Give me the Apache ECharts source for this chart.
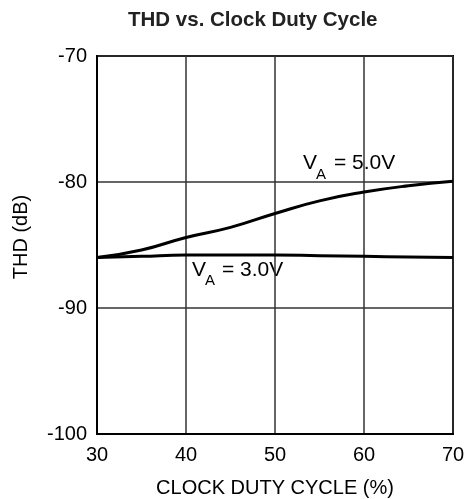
<!DOCTYPE html>
<html><head><meta charset="utf-8">
<script src="https://cdn.jsdelivr.net/npm/echarts@6/dist/echarts.min.js"></script>
<style>html,body{margin:0;padding:0;background:#fff}#c{width:473px;height:499px}</style>
</head><body><div id="c"></div>
<script>
const dutyCycle = [30, 35, 40, 45, 50, 55, 60, 65, 70];
const thd5V = [-86.0, -85.4, -84.4, -83.6, -82.5, -81.5, -80.8, -80.3, -79.95];
const thd3V = [-86.0, -85.9, -85.8, -85.8, -85.8, -85.85, -85.9, -85.95, -86.0];
const FONT = 'Liberation Sans, Arial, sans-serif';
const chart = echarts.init(document.getElementById('c'));
function txt(x, y, s, size, extra) {
  return Object.assign({ type: 'text', x: x, y: y, style: { text: s, fontFamily: FONT, fontSize: size, fill: '#000', align: 'left', verticalAlign: 'middle' } }, extra || {});
}
chart.setOption({
  animation: false,
  title: { text: 'THD vs. Clock Duty Cycle', left: 123, top: 5, textStyle: { fontFamily: FONT, fontSize: 20.5, fontWeight: 'bold', color: '#222' } },
  grid: { left: 97, right: 20, top: 56, bottom: 65, show: true, borderColor: '#000', borderWidth: 2, outerBoundsMode: 'none', containLabel: false },
  xAxis: {
    type: 'value', min: 30, max: 70, interval: 10,
    name: 'CLOCK DUTY CYCLE (%)', nameLocation: 'middle', nameGap: 44,
    nameTextStyle: { fontFamily: FONT, fontSize: 20, color: '#000' },
    axisLine: { show: true, lineStyle: { color: '#000', width: 2 } },
    axisTick: { show: false },
    axisLabel: { fontFamily: FONT, fontSize: 20, color: '#000', margin: 11 },
    splitLine: { show: true, lineStyle: { color: '#333', width: 1.5 } }
  },
  yAxis: {
    type: 'value', min: -100, max: -70, interval: 10,
    axisLine: { show: true, lineStyle: { color: '#000', width: 2 } },
    axisTick: { show: false },
    axisLabel: { fontFamily: FONT, fontSize: 20, color: '#000', margin: 10 },
    splitLine: { show: true, lineStyle: { color: '#333', width: 1.5 } }
  },
  series: [
    { type: 'line', data: dutyCycle.map((x, i) => [x, thd5V[i]]), smooth: true, showSymbol: false, lineStyle: { color: '#000', width: 3 } },
    { type: 'line', data: dutyCycle.map((x, i) => [x, thd3V[i]]), smooth: true, showSymbol: false, lineStyle: { color: '#000', width: 3 } }
  ],
  graphic: [
    { type: 'text', x: 21, y: 237, rotation: Math.PI / 2, style: { text: 'THD (dB)', fontFamily: FONT, fontSize: 20, fill: '#000', align: 'center', verticalAlign: 'middle' } },
    txt(303, 163, 'V', 21), txt(316, 175, 'A', 15), txt(334, 163, '= 5.0V', 21),
    txt(192, 270, 'V', 21), txt(205, 281, 'A', 15), txt(222, 270, '= 3.0V', 21)
  ]
});
</script></body></html>
